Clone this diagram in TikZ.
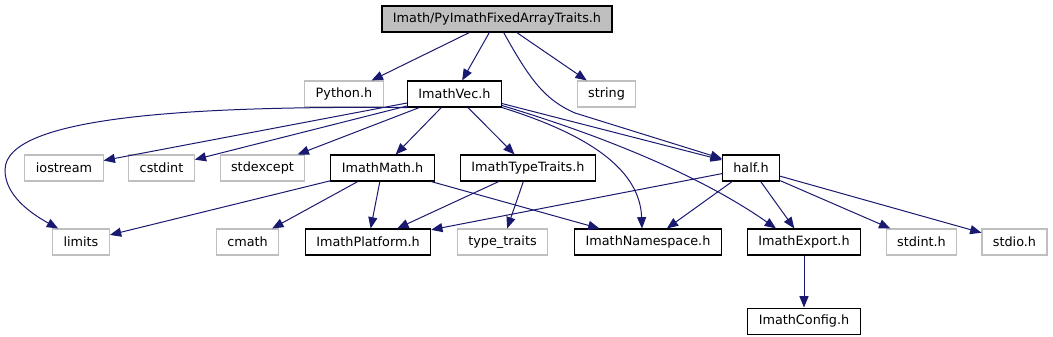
\documentclass[tikz,border=0pt]{standalone}
\usepackage{fontspec}
\newfontfamily\doxyfont{DejaVu Sans}
\usepackage{tikz}
\usetikzlibrary{arrows.meta,positioning}
\definecolor{edgeblue}{RGB}{25,25,112}
\definecolor{grey75}{RGB}{191,191,191}

\begin{document}
\begin{tikzpicture}[
    x=0.75pt, y=-0.75pt,
    font=\doxyfont\fontsize{9.6}{11}\selectfont,
    incl/.style={rectangle, draw=black, fill=white, inner xsep=8.2pt, inner ysep=0pt, minimum height=19.5pt, line width=0.8pt},
    sysincl/.style={incl, draw=grey75},
    rootfile/.style={incl, fill=grey75},
    arrow/.style={-{Triangle[length=8.5pt, width=6.8pt]}, line width=0.75pt, color=edgeblue}
]
\useasboundingbox (0,0) rectangle (1053,336);

% === ROW 1 ===
\node[rootfile] (root) at (497,19) {Imath/PyImathFixedArrayTraits.h};

% === ROW 2 ===
\node[sysincl] (python) at (344,94) {Python.h};
\node[incl] (vec) at (454.5,94) {ImathVec.h};
\node[sysincl] (string) at (606.5,94) {string};

% === ROW 3 ===
\node[sysincl] (iostream) at (64,168) {iostream};
\node[sysincl] (cstdint) at (161.5,168) {cstdint};
\node[sysincl] (stdexcept) at (262.5,168) {stdexcept};
\node[incl] (mathh) at (382.5,168) {ImathMath.h};
\node[incl] (typetr) at (528,168) {ImathTypeTraits.h};
\node[incl] (half) at (751,168) {half.h};

% === ROW 4 ===
\node[sysincl] (limits) at (81,242) {limits};
\node[sysincl] (cmath) at (247.5,242) {cmath};
\node[incl] (platform) at (368,242) {ImathPlatform.h};
\node[sysincl] (stdtraits) at (502.5,242) {type\_traits};
\node[incl] (nspace) at (648,242) {ImathNamespace.h};
\node[incl] (export) at (804,242) {ImathExport.h};
\node[sysincl] (stdint) at (921.5,242) {stdint.h};
\node[sysincl] (stdio) at (1014.5,242) {stdio.h};

% === ROW 5 ===
\node[incl, below=39pt of export] (config) {ImathConfig.h};

% === CONNECTIONS ===
% root file
\draw[arrow] (root) -- (python);
\draw[arrow] (root) -- (vec);
\draw[arrow] (root) -- (string);
\draw[arrow] ([xshift=5pt]root.south) .. controls (530,80) and (545,100) .. (575,113) -- ([yshift=7pt]half.west);

% ImathVec.h
\draw[arrow] (vec.south west) .. controls (200,106) and (5,115) .. (5,170) .. controls (5,195) and (30,213) .. ([xshift=4.5pt]limits.north west);
\draw[arrow] (vec) -- (iostream);
\draw[arrow] (vec) -- (cstdint);
\draw[arrow] (vec) -- (stdexcept);
\draw[arrow] (vec) -- (mathh);
\draw[arrow] (vec) -- (typetr);
\draw[arrow] ([yshift=3pt]vec.south east) -- ([yshift=6pt]half.west);
\draw[arrow] ([yshift=1.5pt]vec.south east) .. controls (600,135) and (700,175) .. ([xshift=-21pt]export.north);
\draw[arrow] (vec.south east) .. controls (590,135) and (640,170) .. ([xshift=-4.5pt]nspace.north);

% ImathMath.h
\draw[arrow] (mathh) -- (limits);
\draw[arrow] (mathh) -- (cmath);
\draw[arrow] (mathh) -- (platform);
\draw[arrow] (mathh) -- (nspace);

% ImathTypeTraits.h
\draw[arrow] (typetr) -- (platform);
\draw[arrow] (typetr) -- (stdtraits);

% half.h
\draw[arrow] (half) -- (platform);
\draw[arrow] (half) -- (nspace);
\draw[arrow] (half) -- (export);
\draw[arrow] (half) -- (stdint);
\draw[arrow] (half) -- (stdio);

% ImathExport.h
\draw[arrow] (export) -- (config);

\end{tikzpicture}
\end{document}
